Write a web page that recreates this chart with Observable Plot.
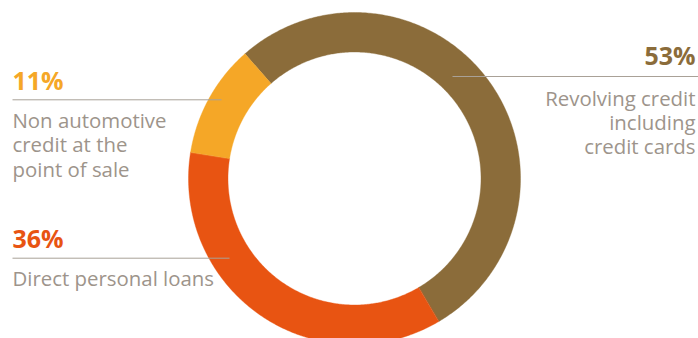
<!DOCTYPE html>
<html>
<head>
<meta charset="utf-8">
<script src="https://cdn.jsdelivr.net/npm/d3@7"></script>
<script src="https://cdn.jsdelivr.net/npm/@observablehq/plot@0.6"></script>
<style>
  html, body { margin: 0; padding: 0; background: #fff; }
  #chart svg { display: block; }
</style>
</head>
<body>
<div id="chart"></div>
<script>
// ---- data ----
const categories = ["Revolving credit including credit cards", "Direct personal loans", "Non automotive credit at the point of sale"];
const shares = [53, 36, 11];
const percentLabels = ["53%", "36%", "11%"];
const descriptionLines = [
  ["Revolving credit", "including", "credit cards"],
  ["Direct personal loans"],
  ["Non automotive", "credit at the", "point of sale"]
];
const sliceColors = ["#8b6c3a", "#e85412", "#f5a727"];

// ---- layout ----
const W = 698, H = 338;
const CX = 354, CY = 178, R_OUT = 166, R_IN = 126.5;
const START = -41.3 * Math.PI / 180;
const DESC_SIZE = 20.4, LINE_H = 24.2;
const labelLayout = [
  {x: 695, anchor: "end", pctY: 64.5, lineY: 76, x1: 452, x2: 698, descY: 102.7},
  {x: 12, anchor: "start", pctY: 247, lineY: 257.7, x1: 12, x2: 229, descY: 282.5},
  {x: 12, anchor: "start", pctY: 89, lineY: 99.3, x1: 12, x2: 221, descY: 125}
];

// ---- build slice polygons from pie angles ----
const pie = d3.pie().sort(null).startAngle(START).endAngle(START + 2 * Math.PI);
const arcs = pie(shares);
const pts = [];
arcs.forEach((a, i) => {
  const n = Math.max(8, Math.ceil((a.endAngle - a.startAngle) / 0.01));
  const outer = [], inner = [];
  for (let k = 0; k <= n; k++) {
    const t = a.startAngle + (a.endAngle - a.startAngle) * k / n;
    outer.push({cat: categories[i], color: sliceColors[i], x: CX + R_OUT * Math.sin(t), y: CY - R_OUT * Math.cos(t)});
    inner.push({cat: categories[i], color: sliceColors[i], x: CX + R_IN * Math.sin(t), y: CY - R_IN * Math.cos(t)});
  }
  pts.push(...outer, ...inner.reverse());
});

const pctData = percentLabels.map((p, i) => ({text: p, color: sliceColors[i], ...labelLayout[i]}));
// first-line baseline at descY: top line anchor puts baseline at y + 0.71em
const descData = descriptionLines.map((lines, i) => ({
  text: lines.join("\n"), x: labelLayout[i].x, anchor: labelLayout[i].anchor,
  y: labelLayout[i].descY - 0.71 * DESC_SIZE
}));
const ruleData = labelLayout.map(l => ({x1: l.x1, x2: l.x2, y: l.lineY}));

const textCommon = {x: "x", text: "text", fontFamily: "Open Sans"};
const chart = Plot.plot({
  width: W, height: H,
  margin: 0,
  x: {domain: [0, W], axis: null},
  y: {domain: [H, 0], axis: null},
  color: {type: "identity"},
  style: {background: "#fff"},
  marks: [
    Plot.line(pts, {x: "x", y: "y", z: "cat", fill: "color", stroke: "color", strokeWidth: 0.4, curve: "linear-closed"}),
    Plot.link(ruleData, {x1: "x1", x2: "x2", y1: "y", y2: "y", stroke: "#a9a197", strokeWidth: 1}),
    Plot.text(pctData.filter(d => d.anchor === "start"), {...textCommon, y: "pctY", fill: "color", textAnchor: "start", lineAnchor: "bottom", fontSize: 25, fontWeight: "bold"}),
    Plot.text(pctData.filter(d => d.anchor === "end"), {...textCommon, y: "pctY", fill: "color", textAnchor: "end", lineAnchor: "bottom", fontSize: 25, fontWeight: "bold"}),
    Plot.text(descData.filter(d => d.anchor === "start"), {...textCommon, y: "y", fill: "#9d948b", textAnchor: "start", lineAnchor: "top", lineHeight: LINE_H / DESC_SIZE, fontSize: DESC_SIZE}),
    Plot.text(descData.filter(d => d.anchor === "end"), {...textCommon, y: "y", fill: "#9d948b", textAnchor: "end", lineAnchor: "top", lineHeight: LINE_H / DESC_SIZE, fontSize: DESC_SIZE})
  ]
});
document.getElementById("chart").appendChild(chart);
</script>
</body>
</html>
